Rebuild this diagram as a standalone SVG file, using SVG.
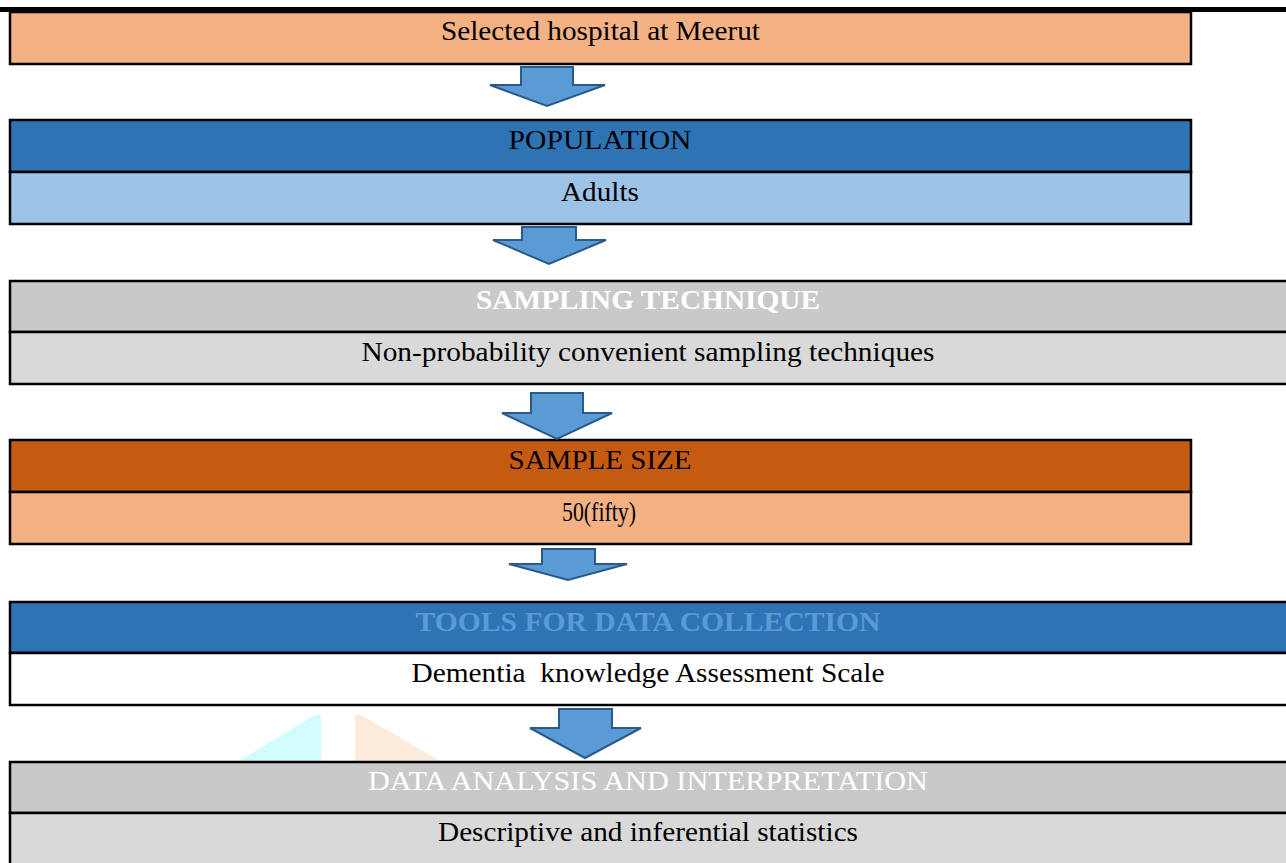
<svg xmlns="http://www.w3.org/2000/svg" width="1286" height="863" viewBox="0 0 1286 863">
<defs>
<style>
.box{stroke:#000;stroke-width:2.5}
.t{font-family:"Liberation Serif","Times New Roman",serif;font-size:28px;text-anchor:middle;fill:#000}
.b{font-weight:bold}
.w{fill:#fff}
.arrow{fill:#5b9bd5;stroke:#2a5a8a;stroke-width:2;stroke-linejoin:miter}
</style>
</defs>
<rect width="1286" height="863" fill="#fff"/>
<g id="watermark">
<polygon points="237,762 315,715 321,715 321,762" fill="#d2fcff"/>
<polygon points="355,715 361,715 442,762 355,762" fill="#fdecdb"/>
</g>
<rect x="0" y="7" width="1286" height="5" fill="#000"/>
<g id="node1">
<rect class="box" x="10" y="12" width="1181" height="52" fill="#f4b183"/>
<text class="t" x="600.5" y="40" textLength="319" lengthAdjust="spacingAndGlyphs">Selected hospital at Meerut</text>
</g>
<g id="node2">
<rect class="box" x="10" y="120" width="1181" height="52" fill="#2e74b5"/>
<rect class="box" x="10" y="172" width="1181" height="52" fill="#9dc3e6"/>
<text class="t" x="600" y="149" textLength="183" lengthAdjust="spacingAndGlyphs">POPULATION</text>
<text class="t" x="600" y="201" textLength="78" lengthAdjust="spacingAndGlyphs">Adults</text>
</g>
<g id="node3">
<rect class="box" x="10" y="281" width="1280" height="51" fill="#c9c9c9"/>
<rect class="box" x="10" y="332" width="1280" height="52" fill="#d9d9d9"/>
<text class="t b w" x="648" y="309" textLength="344" lengthAdjust="spacingAndGlyphs">SAMPLING TECHNIQUE</text>
<text class="t" x="648" y="361" textLength="573" lengthAdjust="spacingAndGlyphs">Non-probability convenient sampling techniques</text>
</g>
<g id="node4">
<rect class="box" x="10" y="440" width="1181" height="52" fill="#c55a11"/>
<rect class="box" x="10" y="492" width="1181" height="52" fill="#f4b183"/>
<text class="t" x="600" y="469" textLength="183" lengthAdjust="spacingAndGlyphs">SAMPLE SIZE</text>
<text class="t" x="599" y="521" textLength="74" lengthAdjust="spacingAndGlyphs">50(fifty)</text>
</g>
<g id="node5">
<rect class="box" x="10" y="602" width="1280" height="51" fill="#2e74b5"/>
<rect class="box" x="10" y="653" width="1280" height="52" fill="#fff"/>
<text class="t b" x="648" y="631" style="fill:#5b9bd5" textLength="465" lengthAdjust="spacingAndGlyphs">TOOLS FOR DATA COLLECTION</text>
<text class="t" x="648" y="682" textLength="473" lengthAdjust="spacingAndGlyphs">Dementia&#160; knowledge Assessment Scale</text>
</g>
<g id="node6">
<rect class="box" x="10" y="762" width="1280" height="51" fill="#c9c9c9"/>
<rect class="box" x="10" y="813" width="1280" height="60" fill="#d9d9d9"/>
<text class="t w" x="648" y="790" textLength="560" lengthAdjust="spacingAndGlyphs">DATA ANALYSIS AND INTERPRETATION</text>
<text class="t" x="648" y="841" textLength="420" lengthAdjust="spacingAndGlyphs">Descriptive and inferential statistics</text>
</g>
<g id="connectors">
<polygon class="arrow" points="521,67 573,67 573,85 605,85 547,106 490,85 521,85"/>
<polygon class="arrow" points="522,227 576,227 576,240 606,240 549,264 493,240 522,240"/>
<polygon class="arrow" points="531,393 583,393 583,413 612,413 557,439 502,413 531,413"/>
<polygon class="arrow" points="542,549 595,549 595,564 627,564 568,580 509,564 542,564"/>
<polygon class="arrow" points="559,709 612,709 612,728 641,728 585,758 530,728 559,728"/>
</g>
</svg>
